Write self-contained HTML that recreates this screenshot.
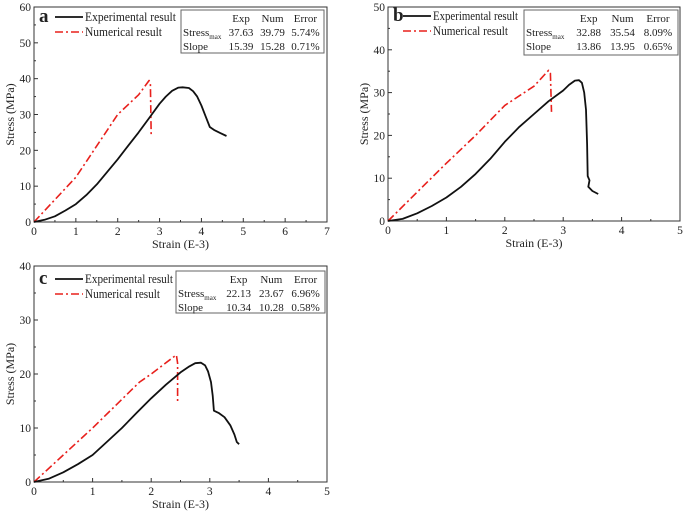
<!DOCTYPE html>
<html><head><meta charset="utf-8"><style>
body{margin:0;background:#fff;}
svg text{font-family:"Liberation Serif",serif;fill:#222;}
</style></head><body>
<svg id="fig" width="685" height="514" viewBox="0 0 685 514" xmlns="http://www.w3.org/2000/svg"></svg>
<script>
// Panel a data
const aExpX=[0,0.25,0.5,0.75,1,1.25,1.5,1.75,2,2.25,2.5,2.75,3,3.15,3.3,3.45,3.55,3.7,3.8,3.9,4.0,4.1,4.2,4.3,4.45,4.6];
const aExpY=[0,0.6,1.6,3.2,5,7.5,10.5,14,17.5,21.3,25,29,33,35,36.6,37.5,37.6,37.4,36.5,35,32.5,29.5,26.5,25.7,24.8,24];
const aNumX=[0,1,2,2.5,2.75,2.78,2.8];
const aNumY=[0,12.5,30,35.5,39.5,38.5,24];
const aTable=[["37.63","39.79","5.74%"],["15.39","15.28","0.71%"]];
// Panel b data
const bExpX=[0,0.25,0.5,0.75,1,1.25,1.5,1.75,2,2.25,2.5,2.75,3,3.1,3.2,3.27,3.32,3.36,3.39,3.41,3.42,3.45,3.43,3.5,3.6];
const bExpY=[0,0.5,1.8,3.5,5.5,8,11,14.5,18.5,22,25,28,30.5,31.8,32.8,32.9,32.3,30,26,18,10.5,9.5,8,7,6.3];
const bNumX=[0,1,1.5,2,2.5,2.75,2.78,2.8];
const bNumY=[0,13.5,20,27,31.5,35.2,34.5,25.5];
const bTable=[["32.88","35.54","8.09%"],["13.86","13.95","0.65%"]];
// Panel c data
const cExpX=[0,0.25,0.5,0.75,1,1.25,1.5,1.75,2,2.25,2.5,2.65,2.75,2.85,2.92,2.97,3.02,3.05,3.07,3.15,3.25,3.35,3.42,3.46,3.5];
const cExpY=[0,0.6,1.8,3.3,5,7.5,10,12.8,15.5,18,20.3,21.4,22,22.1,21.6,20.5,18.5,16,13.2,12.8,12,10.5,8.8,7.4,7];
const cNumX=[0,1,1.8,2,2.4,2.43,2.45,2.45];
const cNumY=[0,10,18.5,20,23.3,23.5,22,15];
const cTable=[["22.13","23.67","6.96%"],["10.34","10.28","0.58%"]];

const NS="http://www.w3.org/2000/svg";
const svg=document.getElementById('fig');
function mk(tag,attrs,parent,txt){const e=document.createElementNS(NS,tag);for(const k in attrs)e.setAttribute(k,attrs[k]);if(txt!==undefined)e.textContent=txt;(parent||svg).appendChild(e);return e;}

function panel(o){
  const g=mk('g',{});
  
  
  const sx=v=>o.x0+(v/o.xmax)*(o.x1-o.x0);
  const sy=v=>o.y0-(v/o.ymax)*(o.y0-o.y1);
  const box=mk('rect',{x:o.x0,y:o.y1,width:o.x1-o.x0,height:o.y0-o.y1,fill:'none',stroke:'#333','stroke-width':1},g);
  
  
  for(let t=0;t<=o.xmax;t+=0.5){
    const X=sx(t);const len=(t%1===0)?4:2;
    mk('line',{x1:X,y1:o.y0,x2:X,y2:o.y0-len,stroke:'#333'},g);
    if(t%1===0){const tl=mk('text',{x:X,y:o.y0+13,'font-size':11.5,'text-anchor':'middle'},g,String(t));
      }
  }
  for(let t=0;t<=o.ymax;t+=5){
    const Y=sy(t);const len=(t%10===0)?4:2;
    mk('line',{x1:o.x0,y1:Y,x2:o.x0+len,y2:Y,stroke:'#333'},g);
    if(t%10===0){const tl=mk('text',{x:o.x0-3,y:Y+4,'font-size':11.5,'text-anchor':'end'},g,String(t));
      }
  }
  const xt=mk('text',{x:(o.x0+o.x1)/2,y:o.y0+26,'font-size':12,'text-anchor':'middle'},g,'Strain (E-3)');
  
  const yx=o.x0-20,yy=(o.y0+o.y1)/2;
  const yt=mk('text',{x:yx,y:yy,'font-size':12,'text-anchor':'middle',transform:`rotate(-90 ${yx} ${yy})`},g,'Stress (MPa)');
  
  const pts=(X,Y)=>X.map((v,i)=>sx(v).toFixed(1)+','+sy(Y[i]).toFixed(1)).join(' ');
  const ne=mk('polyline',{points:pts(o.numX,o.numY),fill:'none',stroke:'#e8201c','stroke-width':1.6,'stroke-dasharray':'8,3,2,3','stroke-linejoin':'round'},g);
  
  const ee=mk('polyline',{points:pts(o.expX,o.expY),fill:'none',stroke:'#111','stroke-width':1.8,'stroke-linejoin':'round'},g);
  
  // legend
  const L=o.leg;
  const pl=mk('text',{x:L.x,y:L.y+5,'font-size':19,'font-weight':'bold'},g,o.id);
  
  mk('line',{x1:L.lx,y1:L.y,x2:L.lx+28,y2:L.y,stroke:'#111','stroke-width':1.8},g);
  const l1=mk('text',{x:L.lx+30,y:L.y+4,'font-size':12.5,textLength:L.w1,lengthAdjust:'spacingAndGlyphs'},g,'Experimental result');
  
  mk('line',{x1:L.lx,y1:L.y+15,x2:L.lx+28,y2:L.y+15,stroke:'#e8201c','stroke-width':1.6,'stroke-dasharray':'8,3,2,3'},g);
  const l2=mk('text',{x:L.lx+30,y:L.y+19,'font-size':12.5,textLength:L.w2,lengthAdjust:'spacingAndGlyphs'},g,'Numerical result');
  
  // table
  const T=o.tab;
  const tb=mk('rect',{x:T.x,y:T.y,width:T.w,height:T.h,fill:'#fff',stroke:'#666'},g);
  
  const cols=[T.x+0.42*T.w,T.x+0.64*T.w,T.x+0.87*T.w];
  ['Exp','Num','Error'].forEach((h,i)=>mk('text',{x:cols[i],y:T.y+12,'font-size':11,'text-anchor':'middle'},g,h));
  const r1=mk('text',{x:T.x+2,y:T.y+26,'font-size':11},g,'Stress');
  mk('tspan',{'font-size':7,dy:3},r1,'max');
  mk('text',{x:T.x+2,y:T.y+40,'font-size':11},g,'Slope');
  o.table.forEach((row,r)=>row.forEach((v,i)=>mk('text',{x:cols[i],y:T.y+26+r*14,'font-size':11,'text-anchor':'middle'},g,v)));
}
panel({id:'a',x0:34,x1:327,y0:222,y1:7,xmax:7,ymax:60,expX:aExpX,expY:aExpY,numX:aNumX,numY:aNumY,table:aTable,
  leg:{x:39,y:17,lx:55,w1:91,w2:77},tab:{x:181,y:10,w:143,h:43}});
panel({id:'b',x0:388,x1:680,y0:221,y1:7,xmax:5,ymax:50,expX:bExpX,expY:bExpY,numX:bNumX,numY:bNumY,table:bTable,
  leg:{x:393,y:16,lx:403,w1:85,w2:75},tab:{x:524,y:10,w:154,h:45}});
panel({id:'c',x0:34,x1:327,y0:482,y1:266,xmax:5,ymax:40,expX:cExpX,expY:cExpY,numX:cNumX,numY:cNumY,table:cTable,
  leg:{x:39,y:279,lx:55,w1:88,w2:75},tab:{x:176,y:271,w:149,h:42}});
</script>
</body></html>
